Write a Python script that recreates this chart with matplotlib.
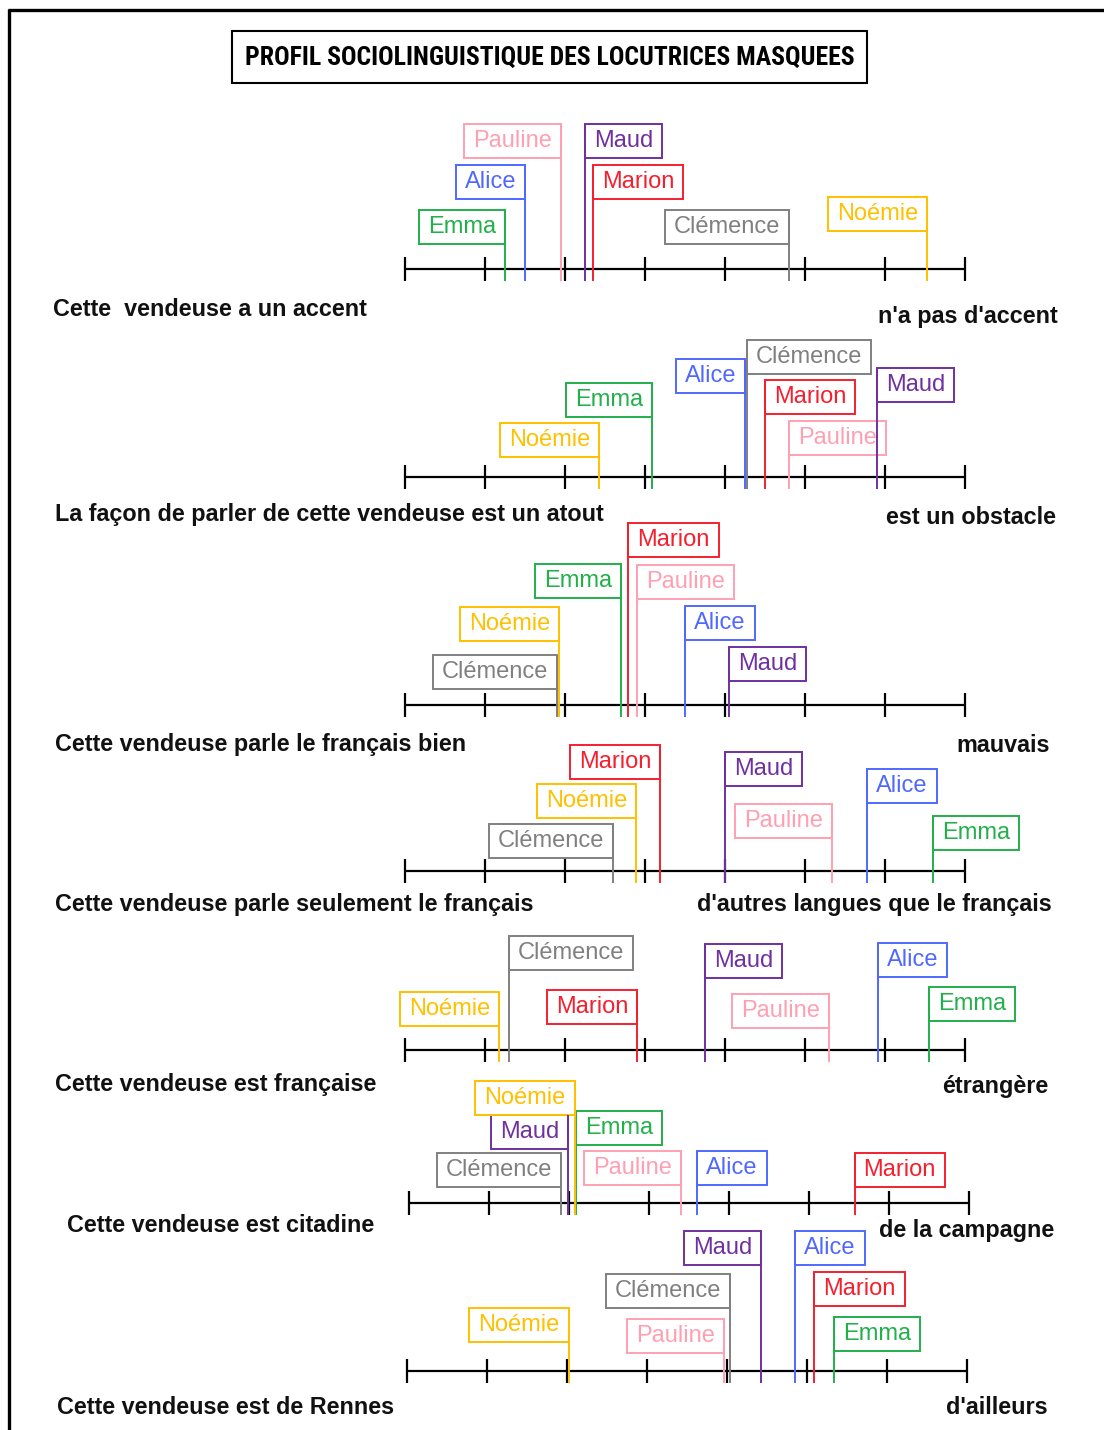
import matplotlib
matplotlib.use('Agg')
import matplotlib.pyplot as plt
from matplotlib.patches import Rectangle
from matplotlib import font_manager

W, H = 1104, 1430

# Locutrices et couleurs
noms = ['Emma', 'Alice', 'Pauline', 'Maud', 'Marion', 'Clémence', 'Noémie']
couleurs = ['#22B04B', '#5068FF', '#FFA0B2', '#7030A0', '#F5202E', '#808080', '#FFC000']

# Position de chaque locutrice sur l'échelle (0 = gauche, 7 = droite), dans l'ordre de `noms`
accent = [1.25, 1.50, 1.95, 2.25, 2.35, 4.80, 6.53]
atout = [3.09, 4.25, 4.80, 5.90, 4.50, 4.27, 2.43]
bien_parle = [2.70, 3.50, 2.90, 4.05, 2.79, 1.90, 1.93]
langues = [6.60, 5.78, 5.34, 4.00, 3.19, 2.60, 2.89]
francaise = [6.55, 5.91, 5.30, 3.75, 2.90, 1.30, 1.18]
citadine = [2.09, 3.60, 3.40, 1.99, 5.57, 1.90, 2.07]
rennes = [5.34, 4.85, 3.96, 4.43, 5.09, 4.04, 2.02]

gauche = ['Cette  vendeuse a un accent',
          'La façon de parler de cette vendeuse est un atout',
          'Cette vendeuse parle le français bien',
          'Cette vendeuse parle seulement le français',
          'Cette vendeuse est française',
          'Cette vendeuse est citadine',
          'Cette vendeuse est de Rennes']
droite = ["n'a pas d'accent", 'est un obstacle', 'mauvais',
          "d'autres langues que le français", 'étrangère',
          'de la campagne', "d'ailleurs"]

titre = 'PROFIL SOCIOLINGUISTIQUE DES LOCUTRICES MASQUEES'

echelles = [accent, atout, bien_parle, langues, francaise, citadine, rennes]

##################################################################################
# Mise en page (pixels)
##################################################################################
# y de la ligne, x du début de la ligne
axes_y = [269, 477, 705, 871, 1050, 1203, 1371]
axes_x0 = [405, 405, 405, 405, 405, 409, 407]
# texte de gauche (x, y) et texte de droite (x droite, y)
pos_gauche = [(53, 309), (55, 515), (55, 745), (55, 905), (55, 1085), (67, 1225), (57, 1407)]
pos_droite = [(1058, 317), (1056, 517), (1050, 745), (1052, 905), (1048, 1087), (1054, 1231), (1048, 1407)]
# côté de la boîte ('r' = trait au bord droit) et hauteur du bas de la boîte au-dessus de la ligne
boites = [
    [('r', 25), ('r', 70), ('r', 111), ('l', 111), ('l', 70), ('r', 25), ('r', 38)],
    [('r', 60), ('r', 84), ('l', 22), ('l', 75), ('l', 63), ('l', 103), ('r', 20)],
    [('r', 107), ('l', 65), ('l', 106), ('l', 24), ('l', 148), ('r', 16), ('r', 64)],
    [('l', 21), ('l', 68), ('r', 33), ('l', 85), ('r', 92), ('r', 13), ('r', 53)],
    [('l', 29), ('l', 73), ('r', 22), ('l', 72), ('r', 26), ('l', 80), ('r', 24)],
    [('l', 58), ('l', 18), ('r', 18), ('r', 54), ('l', 16), ('r', 16), ('r', 88)],
    [('l', 20), ('l', 106), ('r', 18), ('r', 106), ('l', 65), ('r', 63), ('r', 29)],
]

PX = 80.0      # pixels par unité d'échelle
HB = 34        # hauteur des boîtes
PAD = 9        # marge horizontale dans les boîtes
FS = 17
FS_LABEL = 16.8

plt.rcParams['font.family'] = ['Liberation Sans', 'DejaVu Sans']


def police_existe(nom):
    try:
        font_manager.findfont(font_manager.FontProperties(family=nom), fallback_to_default=False)
        return True
    except Exception:
        return False


# police étroite pour le titre si possible
police_titre, taille_titre = 'Liberation Sans', 15.0
for nom_police in ['Liberation Sans Narrow', 'Roboto Condensed', 'Open Sans Condensed']:
    if police_existe(nom_police):
        police_titre, taille_titre = nom_police, 16.5
        break

fig = plt.figure(figsize=(W / 100, H / 100), dpi=100)
fond = fig.add_axes([0, 0, 1, 1])
fond.set_xlim(0, W)
fond.set_ylim(H, 0)
fond.axis('off')

# cadre
fond.plot([8, W], [10, 10], color='black', lw=2.4, solid_capstyle='butt')
fond.plot([9, 9], [9, H], color='black', lw=2.4, solid_capstyle='butt')

# titre
fond.add_patch(Rectangle((232, 31), 635, 52, fill=False, ec='black', lw=1.5))
t_titre = fond.text(549.5, 58, titre, ha='center', va='center', fontsize=taille_titre,
                    fontweight='bold', family=[police_titre, 'DejaVu Sans'])

renderer = fig.canvas.get_renderer()
# ajuster la largeur du titre à celle de l'original (~609 px)
w_titre = t_titre.get_window_extent(renderer).width
t_titre.set_fontsize(taille_titre * 609 / w_titre)

for (gx, gy), txt in zip(pos_gauche, gauche):
    fond.text(gx, gy, txt, ha='left', va='center', fontsize=FS_LABEL, fontweight='bold', color='#111111')
for (dx, dy), txt in zip(pos_droite, droite):
    fond.text(dx, dy, txt, ha='right', va='center', fontsize=FS_LABEL, fontweight='bold', color='#111111')

for k, valeurs in enumerate(echelles):
    ay = axes_y[k]
    ax = fig.add_axes([axes_x0[k] / W, (H - ay - 20) / H, 7 * PX / W, 200 / H])
    ax.set_xlim(0, 7)
    ax.set_ylim(-20, 180)
    ax.axis('off')
    ax.patch.set_visible(False)

    ax.hlines(0, 0, 7, color='black', lw=1.6, clip_on=False)
    ax.vlines(range(8), -12, 12, color='black', lw=1.6, clip_on=False)

    for nom, c, v, (cote, bas) in zip(noms, couleurs, valeurs, boites[k]):
        if cote == 'r':
            t = ax.text(v - PAD / PX, bas + HB / 2, nom, ha='right', va='center',
                        fontsize=FS, color=c, clip_on=False)
        else:
            t = ax.text(v + PAD / PX, bas + HB / 2, nom, ha='left', va='center',
                        fontsize=FS, color=c, clip_on=False)
        larg = (t.get_window_extent(renderer).width + 2 * PAD) / PX
        x_boite = v - larg if cote == 'r' else v
        ax.add_patch(Rectangle((x_boite, bas), larg, HB, fill=False, ec=c, lw=1.4, clip_on=False))
        ax.vlines(v, -12, bas + HB, color=c, lw=1.4, clip_on=False)

fig.savefig('out.png', dpi=100)
